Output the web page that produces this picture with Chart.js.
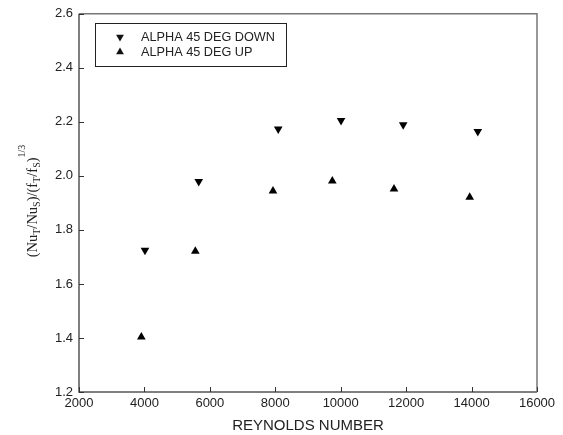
<!DOCTYPE html>
<html>
<head>
<meta charset="utf-8">
<script src="https://cdn.jsdelivr.net/npm/chart.js@4.4.0/dist/chart.umd.min.js"></script>
<style>
  html, body { margin: 0; padding: 0; background: #fff; }
  #wrap { width: 563px; height: 435px; }
</style>
</head>
<body>
<div id="wrap"><canvas id="perfChart" width="563" height="435"></canvas></div>
<script>
// thermal performance vs Reynolds number, 45 deg twisted tape
var seriesNames = ["ALPHA 45 DEG DOWN", "ALPHA 45 DEG UP"];
var reynoldsDown = [4017, 5660, 8090, 10010, 11910, 14190];
var ratioDown = [1.725, 1.979, 2.174, 2.205, 2.189, 2.164];
var reynoldsUp = [3905, 5556, 7930, 9743, 11629, 13943];
var ratioUp = [1.404, 1.721, 1.944, 1.981, 1.951, 1.921];

var xTicks = [2000, 4000, 6000, 8000, 10000, 12000, 14000, 16000];
var yTicks = [1.2, 1.4, 1.6, 1.8, 2.0, 2.2, 2.4, 2.6];

function toPoints(xs, ys) {
  var pts = [];
  for (var i = 0; i < xs.length; i++) pts.push({x: xs[i], y: ys[i]});
  return pts;
}

var textFont = "'Liberation Sans', Arial, sans-serif";

// frame, inward ticks, legend box and the y title with sub/superscripts
var framePlugin = {
  id: 'frame',
  afterDraw: function(chart) {
    var ctx = chart.ctx;
    var a = chart.chartArea;
    var xs = chart.scales.x, ys = chart.scales.y;
    ctx.save();

    // box round the plot
    ctx.lineWidth = 1.5;
    ctx.strokeStyle = '#555';
    ctx.beginPath();
    ctx.moveTo(a.left, a.top); ctx.lineTo(a.left, a.bottom); ctx.lineTo(a.right, a.bottom);
    ctx.stroke();
    ctx.strokeStyle = '#777';
    ctx.beginPath();
    ctx.moveTo(a.left, a.top); ctx.lineTo(a.right, a.top); ctx.lineTo(a.right, a.bottom);
    ctx.stroke();

    // ticks pointing into the plot
    ctx.lineWidth = 1;
    ctx.strokeStyle = '#333';
    ctx.beginPath();
    xTicks.forEach(function(v) {
      var px = Math.round(xs.getPixelForValue(v)) + 0.5;
      ctx.moveTo(px, a.bottom); ctx.lineTo(px, a.bottom - 5);
    });
    yTicks.forEach(function(v) {
      var py = Math.round(ys.getPixelForValue(v)) + 0.5;
      ctx.moveTo(a.left, py); ctx.lineTo(a.left + 5, py);
    });
    ctx.stroke();

    // legend
    ctx.lineWidth = 1;
    ctx.strokeStyle = '#222';
    ctx.strokeRect(95.5, 23.5, 191, 43);
    ctx.fillStyle = '#111';
    var rows = [37, 52];
    chart.data.datasets.forEach(function(ds, i) {
      var cx = 120, cy = rows[i], r = 4.5;
      var dir = ds.pointRotation === 180 ? -1 : 1;
      ctx.beginPath();
      ctx.moveTo(cx, cy - dir * r);
      ctx.lineTo(cx - r * 0.866, cy + dir * r * 0.5);
      ctx.lineTo(cx + r * 0.866, cy + dir * r * 0.5);
      ctx.closePath();
      ctx.fill();
      ctx.font = "12.7px " + textFont;
      ctx.textBaseline = 'middle';
      ctx.textAlign = 'left';
      ctx.fillStyle = '#222';
      ctx.fillText(ds.label, 141, cy);
      ctx.fillStyle = '#111';
    });

    // y title: (Nu_T/Nu_S)/(f_T/f_S)^1/3, rotated
    ctx.translate(37, 201);
    ctx.rotate(-Math.PI / 2);
    ctx.textBaseline = 'alphabetic';
    ctx.textAlign = 'left';
    var big = "14.5px 'Liberation Serif', 'Times New Roman', serif";
    var small = "10px 'Liberation Serif', 'Times New Roman', serif";
    var parts = [
      ["(Nu", big, 0], ["T", small, 3], ["/Nu", big, 0], ["S", small, 3],
      [")/(f", big, 0], ["T", small, 3], ["/f", big, 0], ["S", small, 3],
      [")", big, 0], ["1/3", small, -12]
    ];
    var total = 0;
    parts.forEach(function(p) { ctx.font = p[1]; total += ctx.measureText(p[0]).width; });
    var pos = -total / 2;
    ctx.fillStyle = '#222';
    parts.forEach(function(p) {
      ctx.font = p[1];
      ctx.fillText(p[0], pos, p[2]);
      pos += ctx.measureText(p[0]).width;
    });
    ctx.restore();
  }
};

var perfChart = new Chart(document.getElementById('perfChart'), {
  type: 'scatter',
  data: {
    datasets: [{
      label: seriesNames[0],
      data: toPoints(reynoldsDown, ratioDown),
      pointStyle: 'triangle',
      pointRotation: 180,
      pointRadius: 5,
      backgroundColor: '#000',
      borderColor: '#000',
      borderWidth: 0
    }, {
      label: seriesNames[1],
      data: toPoints(reynoldsUp, ratioUp),
      pointStyle: 'triangle',
      pointRotation: 0,
      pointRadius: 5,
      backgroundColor: '#000',
      borderColor: '#000',
      borderWidth: 0
    }]
  },
  options: {
    responsive: false,
    animation: false,
    layout: { padding: { left: 0, right: 26, top: 13, bottom: 0 } },
    plugins: {
      legend: { display: false },
      tooltip: { enabled: false }
    },
    scales: {
      x: {
        type: 'linear',
        min: 2000,
        max: 16000,
        border: { display: false },
        grid: { display: false, drawTicks: false },
        afterBuildTicks: function(scale) {
          scale.ticks = xTicks.map(function(v) { return {value: v}; });
        },
        afterFit: function(scale) { scale.height = 43; },
        ticks: {
          padding: 4,
          color: '#222',
          font: { family: textFont, size: 13 },
          maxRotation: 0,
          callback: function(v) { return String(v); }
        },
        title: {
          display: true,
          text: 'REYNOLDS NUMBER',
          color: '#222',
          font: { family: textFont, size: 15 },
          padding: { top: 4, bottom: 0 }
        }
      },
      y: {
        type: 'linear',
        min: 1.2,
        max: 2.6,
        border: { display: false },
        grid: { display: false, drawTicks: false },
        afterBuildTicks: function(scale) {
          scale.ticks = yTicks.map(function(v) { return {value: v}; });
        },
        afterFit: function(scale) { scale.width = 79; },
        ticks: {
          padding: 6,
          color: '#222',
          font: { family: textFont, size: 13 },
          callback: function(v) { return Number(v).toFixed(1); }
        }
      }
    }
  },
  plugins: [framePlugin]
});
</script>
</body>
</html>
